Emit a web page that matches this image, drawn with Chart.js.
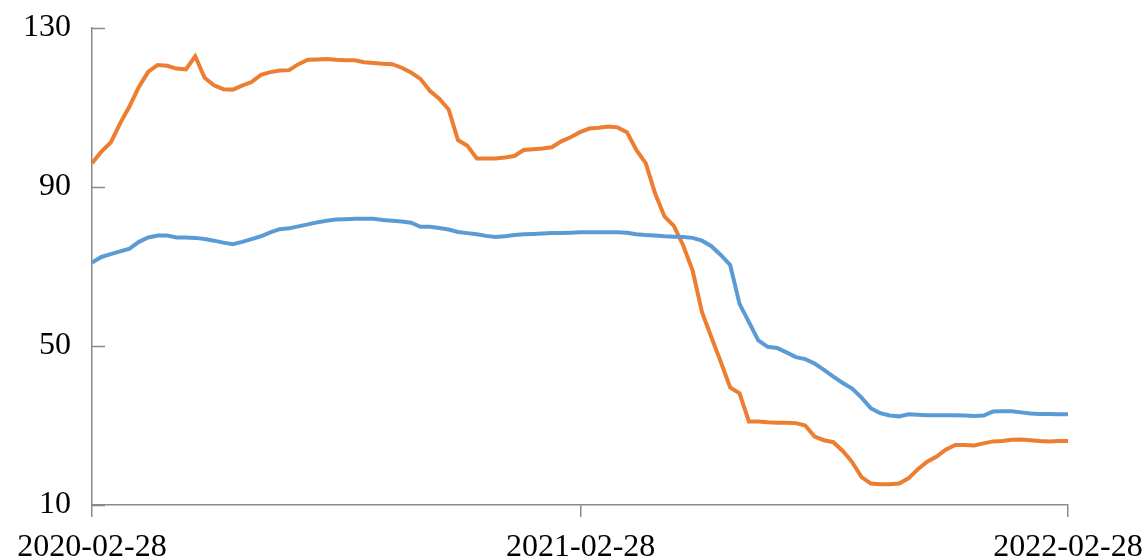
<!DOCTYPE html>
<html>
<head>
<meta charset="utf-8">
<script src="https://cdn.jsdelivr.net/npm/chart.js@4.4.1/dist/chart.umd.min.js"></script>
<style>
  html, body { margin: 0; padding: 0; background: #fff; }
  #wrap { width: 1148px; height: 560px; }
</style>
</head>
<body>
<div id="wrap"><canvas id="myChart" width="1148" height="560"></canvas></div>
<script>
// weekly readings, 2020-02-28 .. 2022-02-28 (105 points)
let blueValues = [
    71.0, 72.4, 73.1, 73.8, 74.5, 76.2, 77.3, 77.8, 77.8, 77.3,
    77.3, 77.2, 76.9, 76.5, 76.0, 75.6, 76.2, 76.9, 77.6, 78.6,
    79.4, 79.6, 80.1, 80.6, 81.1, 81.5, 81.8, 81.9, 82.0, 82.0,
    82.0, 81.7, 81.5, 81.3, 81.0, 80.0, 80.0, 79.7, 79.3, 78.7,
    78.4, 78.1, 77.7, 77.4, 77.6, 77.9, 78.1, 78.2, 78.3, 78.4,
    78.4, 78.5, 78.6, 78.6, 78.6, 78.6, 78.6, 78.5, 78.1, 77.9,
    77.8, 77.6, 77.5, 77.4, 77.2, 76.5, 75.1, 72.9, 70.4, 60.6,
    56.0, 51.4, 49.8, 49.5, 48.4, 47.2, 46.7, 45.6, 44.0, 42.3,
    40.7, 39.3, 37.0, 34.3, 33.1, 32.5, 32.3, 32.8, 32.7, 32.6,
    32.6, 32.6, 32.6, 32.5, 32.4, 32.5, 33.5, 33.6, 33.6, 33.3,
    33.0, 32.9, 32.9, 32.8, 32.8
];
let orangeValues = [
    96.0, 98.9, 101.2, 106.0, 110.3, 115.2, 119.0, 120.7, 120.5, 119.8,
    119.6, 122.9, 117.5, 115.6, 114.6, 114.5, 115.5, 116.4, 118.2, 118.9,
    119.3, 119.4, 120.9, 122.0, 122.1, 122.2, 122.0, 121.9, 121.9, 121.4,
    121.2, 121.0, 120.9, 120.0, 118.8, 117.2, 114.2, 112.2, 109.5, 101.8,
    100.4, 97.2, 97.2, 97.2, 97.4, 97.8, 99.3, 99.5, 99.7, 100.0,
    101.5, 102.5, 103.8, 104.7, 104.9, 105.2, 105.0, 103.8, 99.3, 96.0,
    88.4, 82.6, 80.2, 75.3, 69.0, 58.5, 52.2, 46.0, 39.6, 38.1,
    31.0, 31.0, 30.8, 30.7, 30.7, 30.6, 30.0, 27.2, 26.3, 25.8,
    23.6, 20.8, 17.0, 15.4, 15.2, 15.2, 15.4, 16.7, 19.0, 20.9,
    22.2, 24.0, 25.1, 25.1, 25.0, 25.5, 26.0, 26.1, 26.4, 26.5,
    26.3, 26.1, 26.0, 26.1, 26.1
];
let tickDates = ['2020-02-28', '2021-02-28', '2022-02-28'];
let tickDays = [0, 366, 731];
let yTicks = [10, 50, 90, 130];

let totalDays = 731;
let step = totalDays / (blueValues.length - 1);

function toPoints(values) {
    return values.map(function (v, i) { return { x: i * step, y: v }; });
}

let axisGray = '#898989';
let font = { family: '"Liberation Serif", "Times New Roman", serif', size: 32 };

// y ticks in the reference point inward, into the plot
let innerTicks = {
    id: 'innerTicks',
    afterDraw: function (chart) {
        let ctx = chart.ctx;
        let y = chart.scales.y;
        let left = chart.chartArea.left;
        ctx.save();
        ctx.strokeStyle = axisGray;
        ctx.lineWidth = 1.5;
        yTicks.forEach(function (t) {
            let py = Math.round(y.getPixelForValue(t)) + 0.5;
            ctx.beginPath();
            ctx.moveTo(left, py);
            ctx.lineTo(left + 13, py);
            ctx.stroke();
        });
        ctx.restore();
    }
};

let ctx = document.getElementById('myChart').getContext('2d');

let chart = new Chart(ctx, {
    type: 'line',
    data: {
        datasets: [
            {
                label: 'blue',
                data: toPoints(blueValues),
                borderColor: '#5B9BD5',
                borderWidth: 4,
                pointRadius: 0,
                tension: 0
            },
            {
                label: 'orange',
                data: toPoints(orangeValues),
                borderColor: '#ED7D31',
                borderWidth: 4,
                pointRadius: 0,
                tension: 0
            }
        ]
    },
    options: {
        responsive: false,
        animation: false,
        layout: { padding: { top: 28, right: 80, left: 0, bottom: 0 } },
        plugins: {
            legend: { display: false },
            tooltip: { enabled: false }
        },
        scales: {
            x: {
                type: 'linear',
                min: 0,
                max: totalDays,
                afterBuildTicks: function (scale) {
                    scale.ticks = tickDays.map(function (d) { return { value: d }; });
                },
                afterFit: function (scale) {
                    scale.height = 55;
                    scale.paddingLeft = 0;
                    scale.paddingRight = 0;
                },
                grid: {
                    display: true,
                    drawOnChartArea: false,
                    drawTicks: true,
                    tickLength: 12,
                    color: axisGray,
                    lineWidth: 1.5
                },
                border: { display: true, color: axisGray, width: 1.5 },
                ticks: {
                    autoSkip: false,
                    maxRotation: 0,
                    padding: 11,
                    color: '#000',
                    font: font,
                    callback: function (value) {
                        let i = tickDays.indexOf(value);
                        return i >= 0 ? tickDates[i] : '';
                    }
                }
            },
            y: {
                min: 10,
                max: 130,
                afterBuildTicks: function (scale) {
                    scale.ticks = yTicks.map(function (v) { return { value: v }; });
                },
                afterFit: function (scale) {
                    scale.width = 92;
                    scale.paddingTop = 0;
                    scale.paddingBottom = 0;
                },
                grid: { display: false, drawTicks: false },
                border: { display: true, color: axisGray, width: 1.5 },
                ticks: {
                    padding: 21,
                    color: '#000',
                    font: font
                }
            }
        }
    },
    plugins: [innerTicks]
});
</script>
</body>
</html>
